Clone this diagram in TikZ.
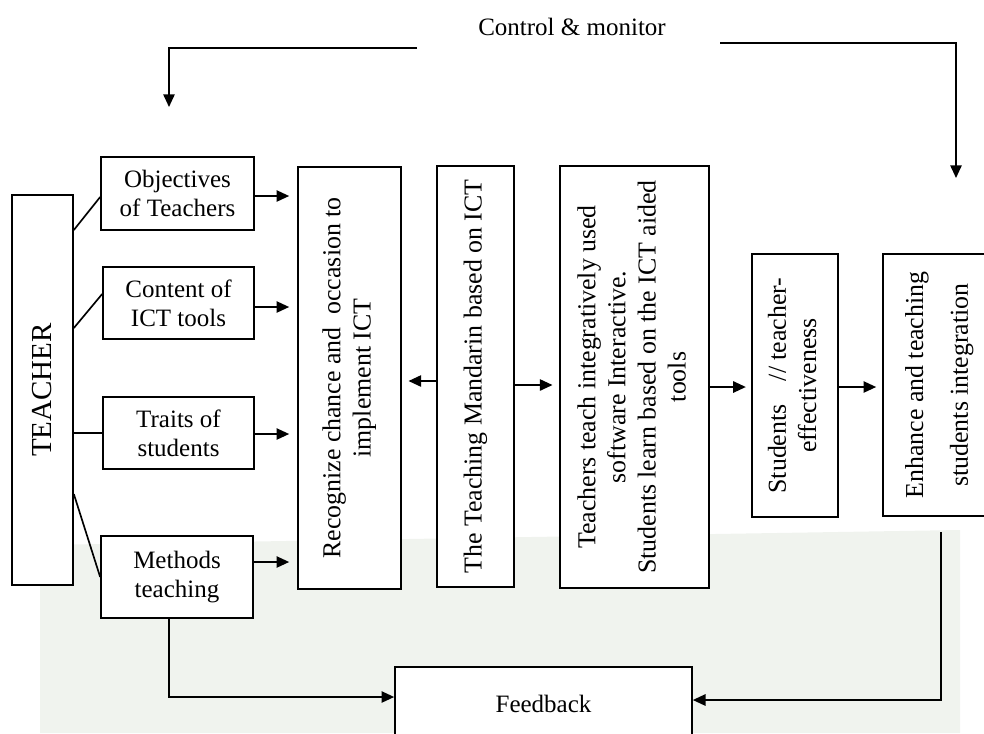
\documentclass[tikz,border=0pt]{standalone}
\usepackage{fontspec}
\setmainfont{Liberation Serif}
\usepackage{graphicx}
\usetikzlibrary{arrows.meta}
\definecolor{bgtex}{RGB}{240,243,238}
\newcommand{\rotfont}{\fontsize{19.4}{22.6}\selectfont}
\begin{document}
\begin{tikzpicture}[x=0.75pt,y=-0.75pt,
  font=\fontsize{18.75}{22}\selectfont,
  bx/.style 2 args={draw, line width=1.25pt, fill=white, inner sep=0pt,
    minimum width=#1*0.75pt, minimum height=#2*0.75pt, align=center},
  ln/.style={line width=1.25pt},
  ar/.style={line width=1.25pt, -{Triangle[length=9.5pt,width=8.5pt]}},
]
\useasboundingbox (0,0) rectangle (984,733);
\clip (0,0) rectangle (984,733);
\fill[bgtex] (40,545) -- (960,530) -- (960,733) -- (40,733) -- cycle;

% left column
\node[bx={61}{390}] (T) at (42.5,390) {\rotatebox{90}{\fontsize{21.75}{26}\selectfont TEACHER}};
\node[bx={153}{73}] (o) at (177.5,193.5) {Objectives\\of Teachers};
\node[bx={151}{72}] (c) at (178.5,303) {Content of\\ICT tools};
\node[bx={151}{72}] (tr) at (178.5,433) {Traits of\\students};
\node[bx={152}{82}] (m) at (177,577) {Methods\\teaching};

% tall boxes
\node[bx={103}{422}] (r) at (349.5,378) {\rotatebox{90}{\rotfont\begin{tabular}{@{}c@{}}Recognize chance and\ \ occasion to\\implement ICT\end{tabular}}};
\node[bx={77}{421}] (man) at (475.5,376.5) {\rotatebox{90}{\rotfont The Teaching Mandarin based on ICT}};
\node[bx={149}{422}] (tt) at (634.5,377) {\rotatebox{90}{\rotfont\begin{tabular}{@{}c@{}}Teachers teach integratively used\\software Interactive.\\Students learn based on the ICT aided\\tools\end{tabular}}};
\node[bx={86}{263}] (st) at (795,385.5) {\rotatebox{90}{\rotfont\begin{tabular}{@{}c@{}}Students\hspace{0.9em}// teacher-\\effectiveness\end{tabular}}};
\node[bx={113}{262}] (en) at (939.5,385) {\rotatebox{90}{\rotfont\begin{tabular}{@{}c@{}}Enhance and teaching\\[11pt]students integration\end{tabular}}};

\node[bx={297}{73}] (fb) at (543.5,703.5) {Feedback};
\node (cm) at (572,27) {Control \& monitor};

% teacher links
\draw[ln] (T.east |- 0,230) -- (o.west |- 0,197);
\draw[ln] (T.east |- 0,328) -- (c.west |- 0,294);
\draw[ln] (T.east |- tr.west) -- (tr.west);
\draw[ln] (T.east |- 0,494) -- (m.west |- 0,577);

% arrows to recognize
\draw[ar, shorten >=6pt] (o.east |- 0,196) -- (r.west |- 0,196);
\draw[ar, shorten >=6pt] (c.east |- 0,307) -- (r.west |- 0,307);
\draw[ar, shorten >=6pt] (tr.east |- 0,434) -- (r.west |- 0,434);
\draw[ar, shorten >=6pt] (m.east |- 0,562) -- (r.west |- 0,562);

% middle arrows
\draw[ar, shorten >=5pt] (man.west |- 0,381) -- (r.east |- 0,381);
\draw[ar, shorten >=5pt] (man.east |- 0,385) -- (tt.west |- 0,385);
\draw[ar, shorten >=4pt] (tt.east |- 0,387) -- (st.west |- 0,387);
\draw[ar, shorten >=4.5pt] (st.east |- 0,387) -- (en.west |- 0,387);

% control & monitor
\coordinate (cl) at (417,48);
\coordinate (tl) at (169,107);
\coordinate (cr) at (720,43);
\coordinate (trr) at (956,178);
\draw[ar] (cl) -| (tl);
\draw[ar] (cr) -| (trr);

% feedback
\draw[ar] (m.south -| 169,0) |- (fb.west |- 0,697);
\coordinate (eb) at (941,532);
\draw[ar] (eb) |- (fb.east |- 0,700);
\end{tikzpicture}
\end{document}
